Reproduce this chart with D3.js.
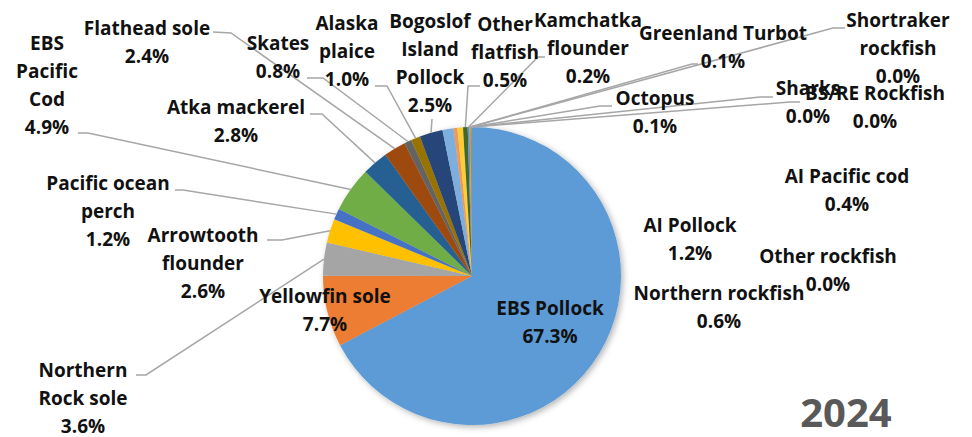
<!DOCTYPE html>
<html>
<head>
<meta charset="utf-8">
<script src="https://cdn.jsdelivr.net/npm/d3@7"></script>
<style>
    body { margin: 0; background: #fff; }
    text { font-family: "Open Sans", sans-serif; font-weight: 700; }
</style>
</head>
<body>
<div class="pie-chart"></div>
<script>
//share of catch by fishery, 2024 (percent)
const categories = [
    "EBS Pollock", "Yellowfin sole", "Northern\nRock sole", "Arrowtooth\nflounder",
    "Pacific ocean\nperch", "EBS\nPacific\nCod", "Atka mackerel", "Flathead sole",
    "Skates", "Alaska\nplaice", "Bogoslof\nIsland\nPollock", "AI Pollock",
    "AI Pacific cod", "Other rockfish", "Northern rockfish", "Other\nflatfish",
    "Kamchatka\nflounder", "Greenland Turbot", "Shortraker\nrockfish", "Octopus",
    "Sharks", "BS/RE Rockfish"
];
const values = [
    67.3, 7.7, 3.6, 2.6,
    1.2, 4.9, 2.8, 2.4,
    0.8, 1.0, 2.5, 1.2,
    0.4, 0.02, 0.6, 0.5,
    0.2, 0.1, 0.02, 0.1,
    0.02, 0.02
];
const colors = [
    "#5B9BD5", "#ED7D31", "#A5A5A5", "#FFC000",
    "#4472C4", "#70AD47", "#255E91", "#9E480E",
    "#636363", "#997300", "#264478", "#7CAFDD",
    "#F1975A", "#B7B7B7", "#FFCD33", "#43682B",
    "#698ED0", "#8CC168", "#327DC2", "#D26012",
    "#838383", "#CC9A00"
];
const yearLabel = "2024";

//where each data label sits (centre x, first baseline) and where its leader line starts
const labelPos = [
    {x: 550, y: 315},
    {x: 325, y: 303},
    {x: 83, y: 377, lead: [[136, 375], [146, 375]]},
    {x: 203, y: 242, lead: [[267, 240], [282, 240]]},
    {x: 108, y: 190, lead: [[175, 190], [183, 190]]},
    {x: 47, y: 50, lead: [[78, 133], [88, 133]]},
    {x: 236, y: 114, lead: [[310, 114], [322, 114]]},
    {x: 147, y: 35, lead: [[213, 32], [231, 33]]},
    {x: 278, y: 50, lead: [[307, 78], [323, 78]]},
    {x: 347, y: 30, lead: [[375, 86], [387, 86]]},
    {x: 430, y: 28, lead: [[432, 119]]},
    {x: 690, y: 232},
    {x: 847, y: 183},
    {x: 828, y: 263},
    {x: 719, y: 300},
    {x: 505, y: 31, lead: [[480, 86], [468, 86]]},
    {x: 588, y: 27, lead: [[545, 57], [538, 57]]},
    {x: 723, y: 40, lead: [[698, 64], [692, 64]]},
    {x: 898, y: 27, lead: [[845, 28], [833, 28]]},
    {x: 655, y: 105, lead: [[612, 106], [600, 106]]},
    {x: 808, y: 95, lead: [[773, 97], [760, 97]]},
    {x: 875, y: 100, lead: [[800, 102], [790, 102]]}
];

const width = 972;
const height = 437;
const cx = 472, cy = 276, radius = 149;
const lineHeight = 28;

const data = categories.map((c, i) => ({name: c, value: values[i], color: colors[i], pos: labelPos[i]}));

const svg = d3.select('.pie-chart')
    .append('svg')
    .attr('width', width)
    .attr('height', height);

//soft shadow under the pie
const filter = svg.append('defs').append('filter')
    .attr('id', 'shadow')
    .attr('x', '-20%').attr('y', '-20%')
    .attr('width', '140%').attr('height', '140%');
filter.append('feDropShadow')
    .attr('dx', 2).attr('dy', 2)
    .attr('stdDeviation', 3)
    .attr('flood-color', '#000')
    .attr('flood-opacity', 0.3);

const pie = d3.pie()
    .sort(null)
    .value(d => d.value);
const arcs = pie(data);

const arc = d3.arc().innerRadius(0).outerRadius(radius);
const edge = d3.arc().innerRadius(radius).outerRadius(radius);

const g = svg.append('g')
    .attr('transform', `translate(${cx},${cy})`);

g.append('g')
    .attr('filter', 'url(#shadow)')
    .selectAll('path')
    .data(arcs)
    .enter()
    .append('path')
    .attr('d', arc)
    .attr('fill', d => d.data.color);

//leader lines from label to the slice edge
svg.selectAll('path.leader')
    .data(arcs.filter(d => d.data.pos.lead))
    .enter()
    .append('path')
    .attr('class', 'leader')
    .attr('d', d => {
        const p = edge.centroid(d);
        const pts = d.data.pos.lead.concat([[cx + p[0], cy + p[1]]]);
        return d3.line()(pts);
    })
    .attr('fill', 'none')
    .attr('stroke', '#A6A6A6')
    .attr('stroke-width', 1.5);

//data labels: name lines plus the percent
const labels = svg.selectAll('text.label')
    .data(arcs)
    .enter()
    .append('text')
    .attr('class', 'label')
    .attr('text-anchor', 'middle')
    .attr('font-size', 19)
    .attr('fill', '#111');

labels.each(function(d) {
    const lines = d.data.name.split('\n').concat([d.data.value.toFixed(1) + '%']);
    d3.select(this).selectAll('tspan')
        .data(lines)
        .enter()
        .append('tspan')
        .attr('x', d.data.pos.x)
        .attr('y', (t, i) => d.data.pos.y + i * lineHeight)
        .text(t => t);
});

//year stamp
svg.append('text')
    .attr('x', 846)
    .attr('y', 427)
    .attr('text-anchor', 'middle')
    .attr('font-size', 40)
    .attr('fill', '#595959')
    .text(yearLabel);
</script>
</body>
</html>
